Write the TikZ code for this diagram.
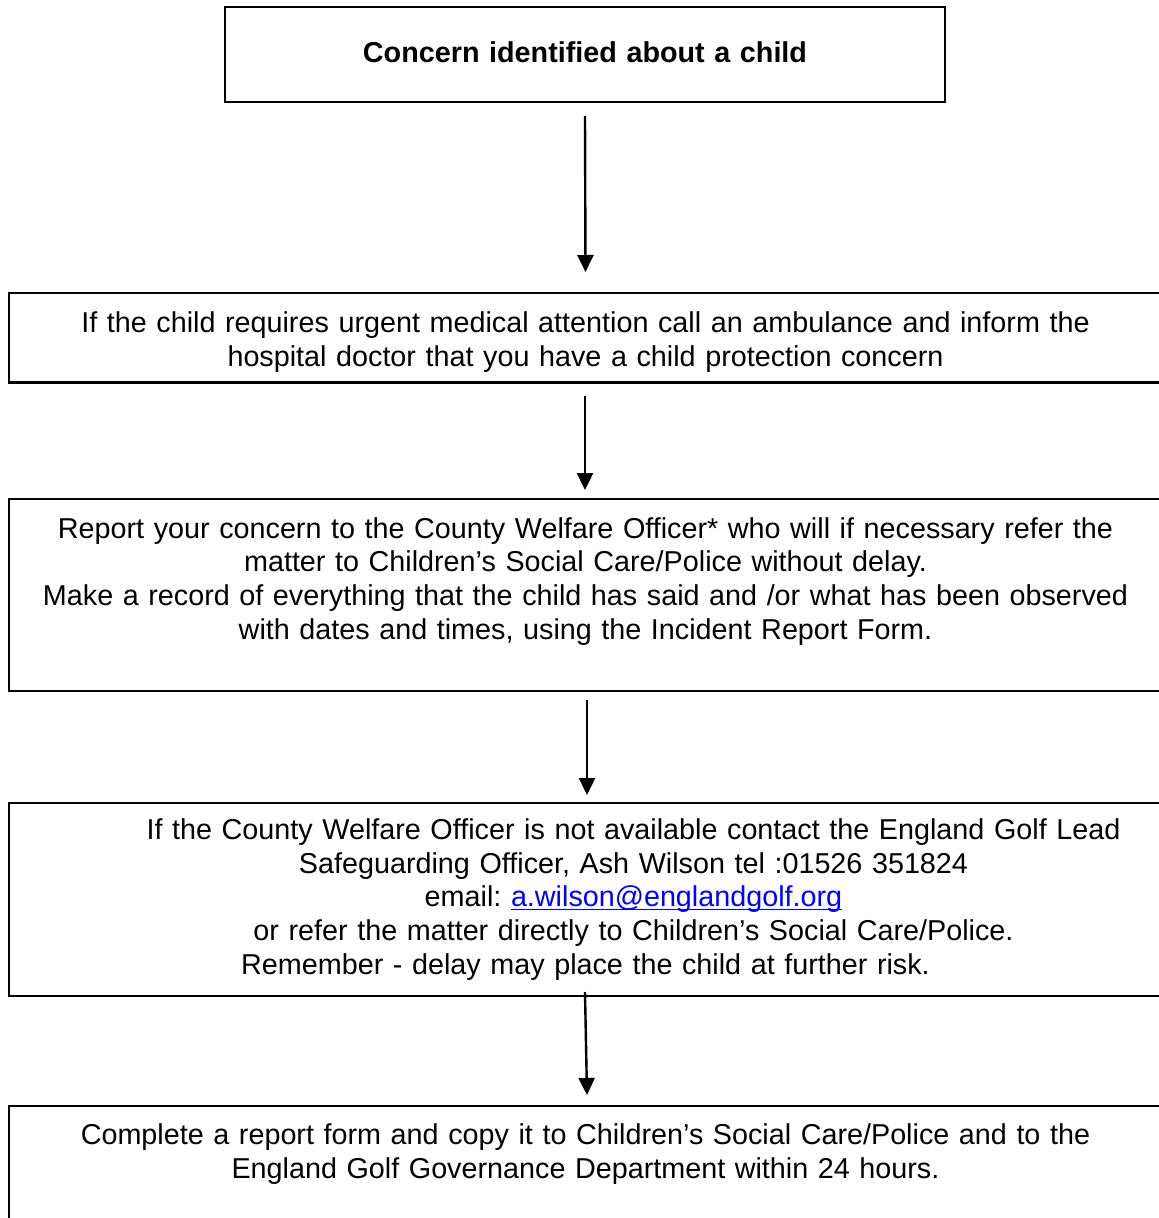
\documentclass[tikz,border=0pt]{standalone}
\usepackage{fontspec}
\setmainfont{Liberation Sans}
\usetikzlibrary{arrows.meta}
\definecolor{cor_link}{RGB}{0,0,255}
\frenchspacing
\newcommand\sublinhar[1]{\leavevmode\setbox0\hbox{#1}\rlap{\rule[-3.5pt]{\wd0}{1.6pt}}\box0}

\begin{document}
\begin{tikzpicture}[x=1pt,y=-1pt]
        \tikzset{
            caixa/.style={
                draw,
                line width=2.7pt,
                outer sep=0pt,
                inner sep=0pt,
                align=center,
                text width=1140pt,
                minimum width=1153pt,
                minimum height=#1,
                font=\fontsize{28.75}{33.7}\selectfont
            },
            seta/.style={
                line width=2.4pt,
                -{Triangle[length=17pt,width=16pt]}
            }
        }
        \useasboundingbox (0,0) rectangle (1159,1218);
        \clip (0,0) rectangle (1159,1218);

        %caixas
        \node[caixa=95pt, minimum width=720pt, text width=700pt] (inicio) at (585,54.5)
            {\bfseries Concern identified about a child\rule[-4pt]{0pt}{1pt}};
        \node[caixa=89.5pt] (medico) at (585.5,337.75)
            {\rule{0pt}{30pt}If the child requires urgent medical attention call an ambulance and inform the\\
             hospital doctor that you have a child protection concern};
        \node[caixa=192pt] (relato) at (585.5,595)
            {Report your concern to the County Welfare Officer* who will if necessary refer the\\
             matter to Children’s Social Care/Police without delay.\\
             Make a record of everything that the child has said and /or what has been observed\\
             with dates and times, using the Incident Report Form.\\
             \mbox{}};
        \node[caixa=193pt] (contato) at (585.5,899.5)
            {\leftskip=96pt plus 1fil\rightskip=0pt plus 1fil\parfillskip=0pt\relax
             If the County Welfare Officer is not available contact the England Golf Lead\\
             Safeguarding Officer, Ash Wilson tel :01526 351824\\
             email: \textcolor{cor_link}{\sublinhar{a.wilson@englandgolf.org}}\\
             or refer the matter directly to Children’s Social Care/Police.\\
             Remember - delay may place the child at further risk.};
        \node[caixa=158pt] (formulario) at (585.5,1185)
            {Complete a report form and copy it to Children’s Social Care/Police and to the\\
             England Golf Governance Department within 24 hours.\\
             \mbox{}\\
             \mbox{}};

        %setas
        \draw[seta] ([yshift=-14pt]inicio.south) -- ([yshift=21pt]medico.north);
        \draw[seta] ([xshift=-0.5pt,yshift=-13.5pt]medico.south) -- ([xshift=-0.5pt,yshift=9pt]relato.north);
        \draw[seta] ([xshift=1.5pt,yshift=-9pt]relato.south) -- ([xshift=1.5pt,yshift=8pt]contato.north);
        \draw[seta] ([xshift=-0.5pt,yshift=4pt]contato.south) -- ([xshift=1.5pt,yshift=11pt]formulario.north);

    \end{tikzpicture}
\end{document}
